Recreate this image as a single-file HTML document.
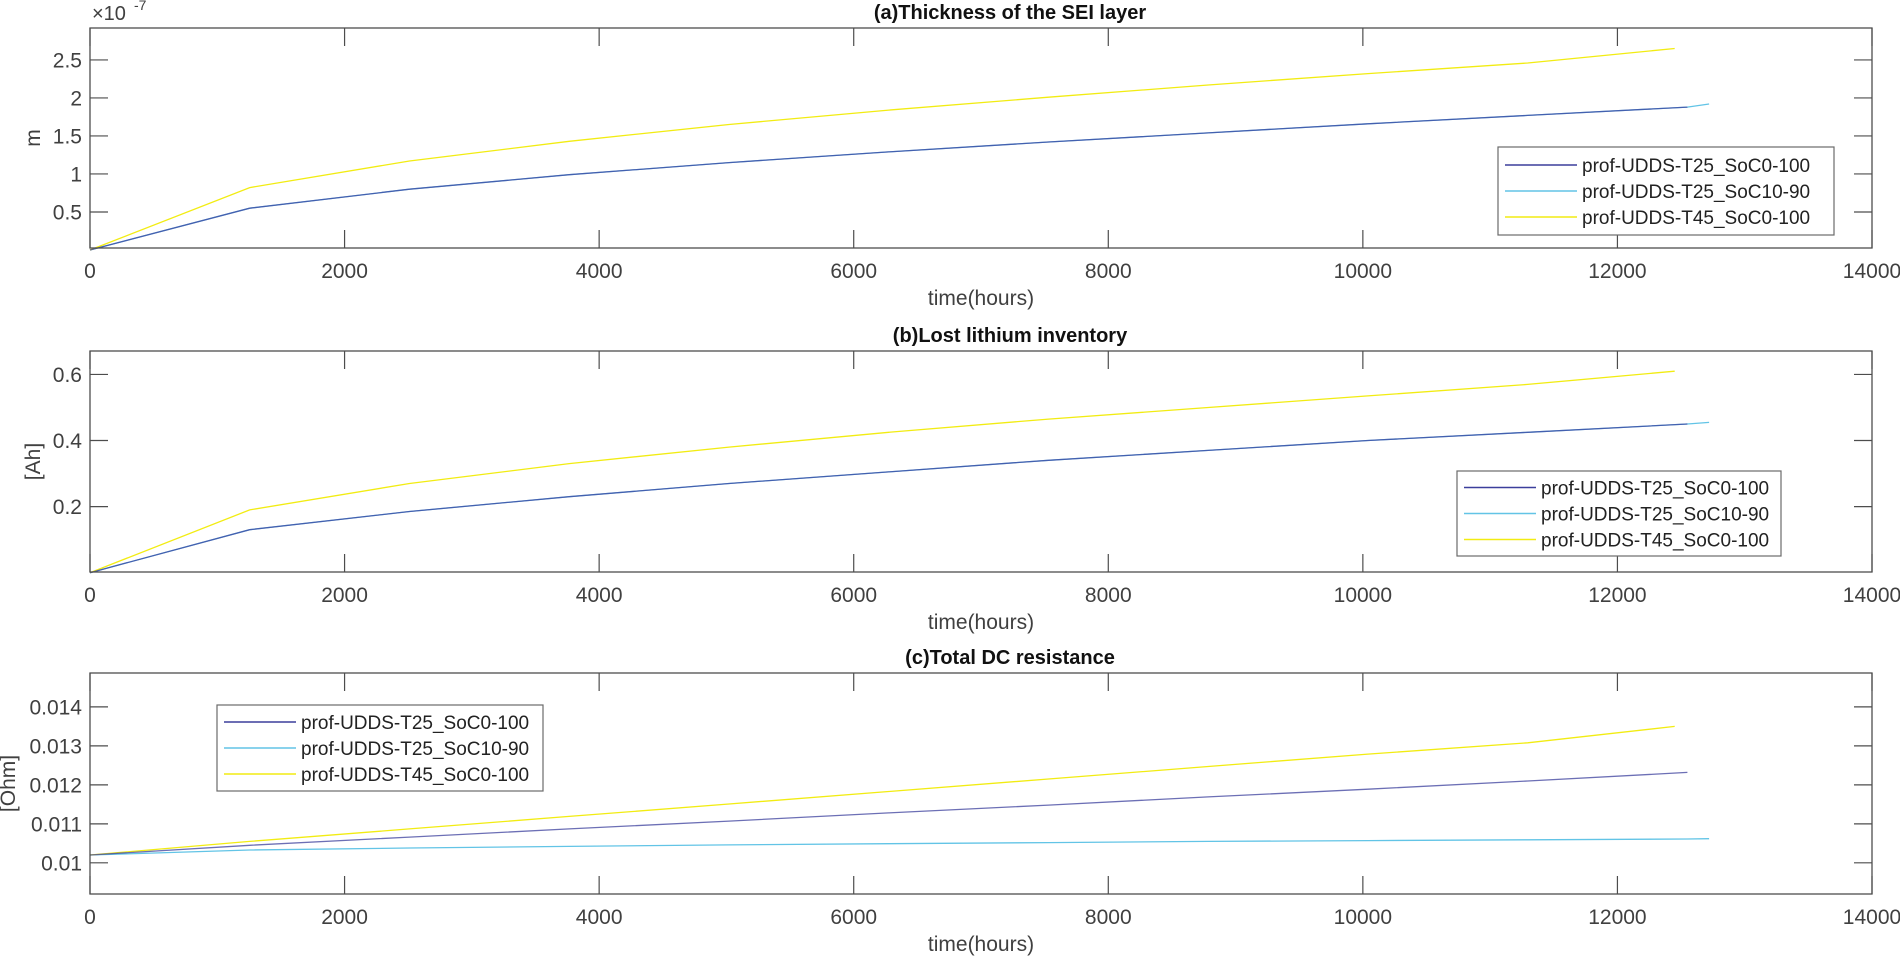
<!DOCTYPE html>
<html><head><meta charset="utf-8"><style>
html,body{margin:0;padding:0;background:#fff;}
svg{display:block;font-family:"Liberation Sans",Arial,sans-serif;}
</style></head><body>
<svg id="fig" width="1900" height="958" viewBox="0 0 1900 958" xmlns="http://www.w3.org/2000/svg"></svg>
<script>
const xTicks=[0,2000,4000,6000,8000,10000,12000,14000];
const seriesNames=["prof-UDDS-T25_SoC0-100","prof-UDDS-T25_SoC10-90","prof-UDDS-T45_SoC0-100"];
const tBlue=[0,1255,2510,3765,5020,6275,7530,8785,10040,11295,12550];
const tCyan=[0,1255,2510,3765,5020,6275,7530,8785,10040,11295,12550,12720];
const tYellow=[0,1255,2510,3765,5020,6275,7530,8785,10040,11295,12450];
const seiBlue=[0,0.55,0.80,0.99,1.15,1.29,1.42,1.54,1.66,1.77,1.88];
const seiCyan=[0,0.55,0.80,0.99,1.15,1.29,1.42,1.54,1.66,1.77,1.88,1.92];
const seiYellow=[0,0.82,1.17,1.43,1.65,1.84,2.01,2.17,2.32,2.46,2.65];
const seiTicks=[0.5,1,1.5,2,2.5];
const liBlue=[0,0.13,0.185,0.23,0.27,0.305,0.34,0.37,0.40,0.425,0.45];
const liCyan=[0,0.13,0.185,0.23,0.27,0.305,0.34,0.37,0.40,0.425,0.45,0.455];
const liYellow=[0,0.19,0.27,0.33,0.38,0.425,0.465,0.50,0.535,0.57,0.61];
const liTicks=[0.2,0.4,0.6];
const rBlue=[0.0102,0.01045,0.01066,0.01087,0.01107,0.01128,0.01148,0.01169,0.01189,0.0121,0.01232];
const rCyan=[0.0102,0.01033,0.01038,0.01042,0.01046,0.01049,0.01052,0.01055,0.01057,0.01059,0.01061,0.01062];
const rYellow=[0.0102,0.01055,0.01087,0.01119,0.01151,0.01183,0.01215,0.01247,0.01279,0.01308,0.0135];
const rTicks=[0.01,0.011,0.012,0.013,0.014];
const rTickLabels=["0.01","0.011","0.012","0.013","0.014"];

const NS="http://www.w3.org/2000/svg";
const svg=document.getElementById('fig');
const colors=["#3b3f9c","#62c4e6","#f2ec12"];
function el(tag,attrs,parent,text){const e=document.createElementNS(NS,tag);for(const k in attrs)e.setAttribute(k,attrs[k]);if(text!==undefined)e.textContent=text;(parent||svg).appendChild(e);return e;}
const X0=90,X1=1872;
function sx(t){return X0+(t-0)/(14000-0)*(X1-X0);}

function panel(cfg){
  const g=el('g',{});
  
  
  const top=cfg.top,bot=cfg.bot;
  const sy=v=>bot-(v-cfg.ymin)/(cfg.ymax-cfg.ymin)*(bot-top);
  const ts=[tBlue,tCyan,tYellow];
  [1,2,0].forEach(k=>{
    const vals=cfg.series[k];
    const pts=vals.map((v,i)=>sx(ts[k][i]).toFixed(1)+","+sy(v).toFixed(1)).join(" ");
    const p=el('polyline',{points:pts,fill:'none',stroke:colors[k],'stroke-width':1.3,'stroke-opacity':k===0?0.75:1},g);
    
    
  });
  const box=el('rect',{x:X0,y:top,width:X1-X0,height:bot-top,fill:'none',stroke:'#4d4d4d','stroke-width':1.3},g);
  
  
  const tl=18;
  xTicks.forEach(t=>{
    const x=sx(t);
    el('line',{x1:x,y1:bot,x2:x,y2:bot-tl,stroke:'#4d4d4d','stroke-width':1.2},g);
    el('line',{x1:x,y1:top,x2:x,y2:top+tl,stroke:'#4d4d4d','stroke-width':1.2},g);
    const tx=el('text',{x:x,y:bot+30,'font-size':21,fill:'#404040','text-anchor':'middle'},g,String(t));
    
    
  });
  cfg.ticks.forEach((v,i)=>{
    const y=sy(v);
    el('line',{x1:X0,y1:y,x2:X0+tl,y2:y,stroke:'#4d4d4d','stroke-width':1.2},g);
    el('line',{x1:X1,y1:y,x2:X1-tl,y2:y,stroke:'#4d4d4d','stroke-width':1.2},g);
    const tx=el('text',{x:X0-8,y:y+7.5,'font-size':21,fill:'#404040','text-anchor':'end'},g,cfg.tickLabels[i]);
    
    
  });
  const title=el('text',{x:(X0+X1)/2+29,y:top-9,'font-size':20,'font-weight':'bold',fill:'#111','text-anchor':'middle'},g,cfg.title);
  
  
  const xl=el('text',{x:(X0+X1)/2,y:bot+57,'font-size':21,fill:'#404040','text-anchor':'middle'},g,'time(hours)');
  
  
  const yl=el('text',{x:cfg.ylx,y:(top+bot)/2,'font-size':21,fill:'#404040','text-anchor':'middle',transform:`rotate(-90 ${cfg.ylx} ${(top+bot)/2})`},g,cfg.ylabel);
  
  
  const L=cfg.legend;
  const lg=el('g',{},g);
  
  
  el('rect',{x:L.x,y:L.y,width:L.w,height:L.h,fill:'#fff',stroke:'#6a6a6a','stroke-width':1.2},lg);
  seriesNames.forEach((n,k)=>{
    const yy=L.y+L.h/2+(k-1)*26;
    const e=el('g',{},lg);
    
    
    el('line',{x1:L.x+7,y1:yy,x2:L.x+79,y2:yy,stroke:colors[k],'stroke-width':1.5},e);
    el('text',{x:L.x+84,y:yy+7,'font-size':19,fill:'#222'},e,n);
  });
}
panel({name:'panel-sei-thickness',top:28,bot:248,ymin:0.026,ymax:2.92,ticks:seiTicks,tickLabels:["0.5","1","1.5","2","2.5"],
  series:[seiBlue,seiCyan,seiYellow],title:'(a)Thickness of the SEI layer',ylabel:'m',ylx:40,legend:{x:1498,y:147,w:336,h:88}});
panel({name:'panel-lost-lithium',top:351,bot:572,ymin:0.002,ymax:0.671,ticks:liTicks,tickLabels:["0.2","0.4","0.6"],
  series:[liBlue,liCyan,liYellow],title:'(b)Lost lithium inventory',ylabel:'[Ah]',ylx:40,legend:{x:1457,y:471,w:324,h:85}});
panel({name:'panel-dc-resistance',top:673,bot:894,ymin:0.00920,ymax:0.01487,ticks:rTicks,tickLabels:rTickLabels,
  series:[rBlue,rCyan,rYellow],title:'(c)Total DC resistance',ylabel:'[Ohm]',ylx:15,legend:{x:217,y:705,w:326,h:86}});
const ex=el('text',{x:92,y:20,'font-size':20,fill:'#404040'},svg,'×10');


const ex2=el('text',{x:134,y:10,'font-size':14,fill:'#404040'},svg,'-7');


</script>
</body></html>
